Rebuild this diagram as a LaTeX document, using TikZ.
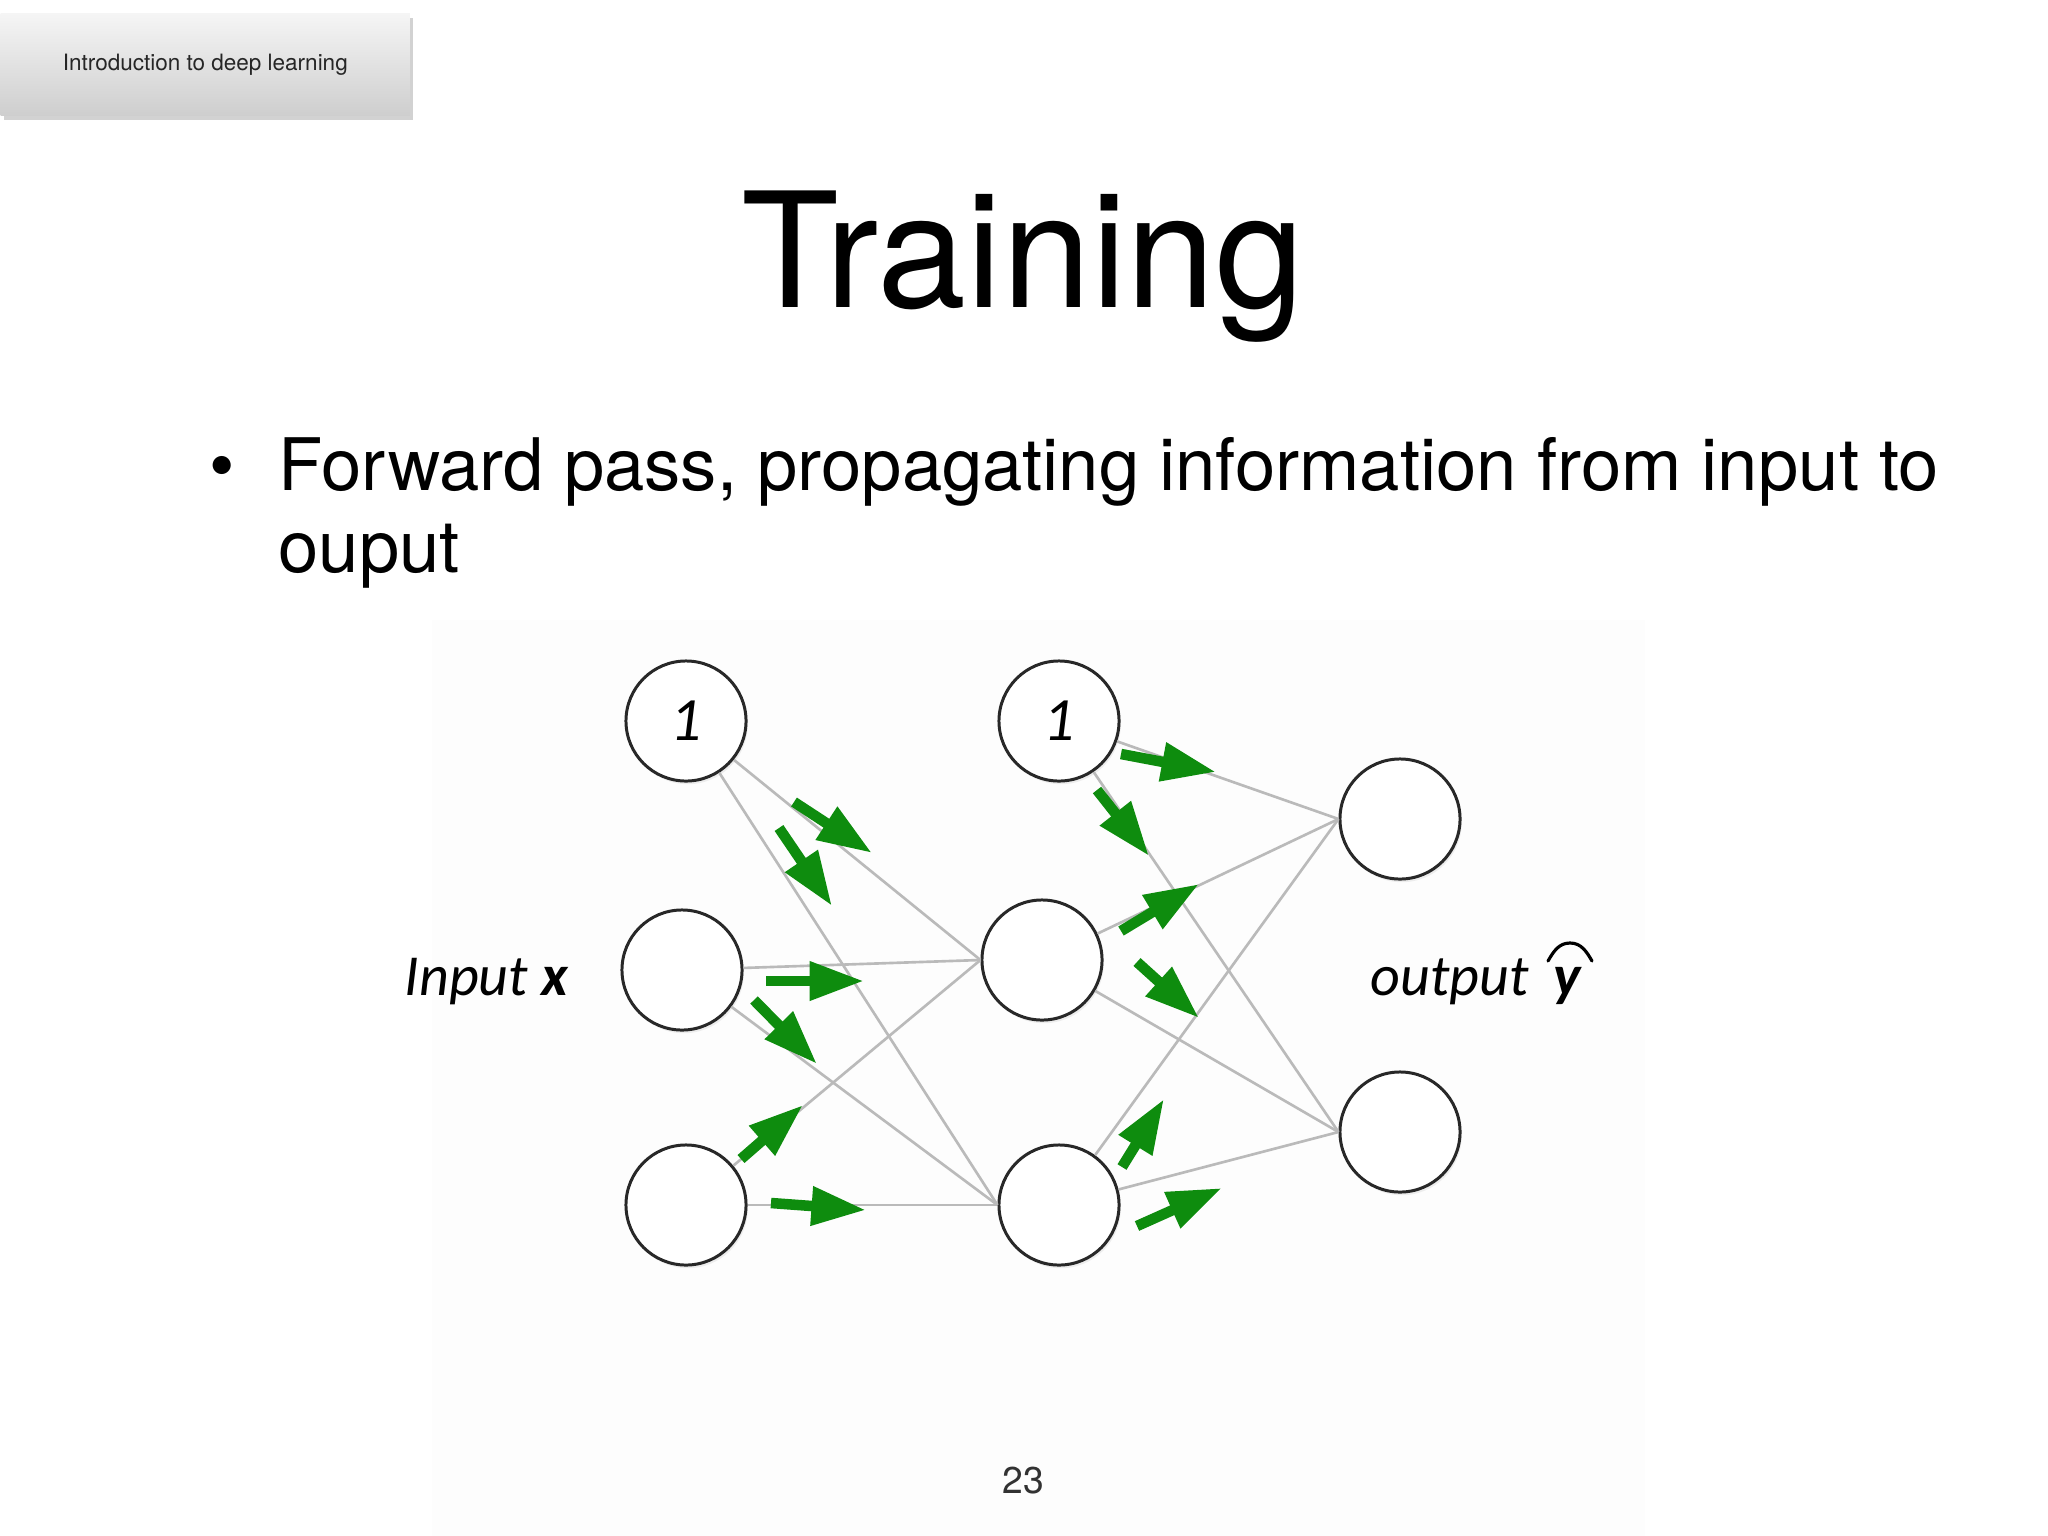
\documentclass[tikz,border=0pt]{standalone}
\usepackage{fontspec}
\setmainfont{TeX Gyre Heros}
\newfontfamily\calfont{Carlito}
\usetikzlibrary{arrows.meta,shadows,calc}
\definecolor{fwd}{RGB}{14,140,14}
\definecolor{edgegray}{RGB}{186,186,186}
\definecolor{ringgray}{RGB}{40,40,40}
\definecolor{hdtop}{RGB}{245,245,245}
\definecolor{hdbot}{RGB}{206,206,206}
\definecolor{pnum}{RGB}{50,50,50}
\definecolor{panel}{RGB}{253,253,253}
\begin{document}
\begin{tikzpicture}[x=0.01cm,y=-0.01cm,
  neuron/.style={circle, draw=ringgray, line width=0.85pt, fill=white,
    minimum size=1.2cm, inner sep=0pt,
    font=\calfont\itshape\fontsize{17.5}{17.5}\selectfont,
    drop shadow={opacity=0.12, shadow xshift=0.5pt, shadow yshift=-0.9pt}},
  edge/.style={draw=edgegray, line width=0.75pt},
  flow/.style={draw=fwd, line width=3pt, -{Triangle[length=15.5pt,width=10.5pt]}},
  lab/.style={font=\calfont\itshape\fontsize{16.5}{16.5}\selectfont, inner sep=0pt, anchor=base west},
  header/.style={anchor=north west, minimum width=4.09cm, minimum height=1.02cm,
    top color=hdtop, bottom color=hdbot, inner sep=0pt,
    font=\fontsize{6.4}{7}\selectfont, text=black!85,
    drop shadow={opacity=0.35, shadow xshift=0.8pt, shadow yshift=-1.2pt}},
  bodytext/.style={anchor=base west, inner sep=0pt, font=\fontsize{20.6}{24}\selectfont}]

\fill[white] (0,0) rectangle (2048,1536);
\useasboundingbox (0,0) rectangle (2048,1536);
\fill[panel] (432,620) rectangle (1645,1536);

% header tab
\node[header] (hdr) at (0,13) {Introduction to deep learning};

% title and bullet
\node[anchor=base, inner sep=0pt, font=\fontsize{45.5}{50}\selectfont] (title) at (1023,307) {Training};
\node[anchor=base, inner sep=0pt, font=\fontsize{20.6}{24}\selectfont] (bul) at (222,490) {\textbullet};
\node[bodytext] (line1) at (278,490) {Forward pass, propagating information from input to};
\node[bodytext] (line2) at (278,572) {ouput};

% neurons
\node[neuron] (in1) at (686,721) {1};
\node[neuron] (in2) at (682,970) {};
\node[neuron] (in3) at (686,1205) {};
\node[neuron] (h1) at (1059,721) {1};
\node[neuron] (h2) at (1042,960) {};
\node[neuron] (h3) at (1059,1205) {};
\node[neuron] (o1) at (1400,819) {};
\node[neuron] (o2) at (1400,1132) {};

% connections
\foreach \s in {in1,in2,in3}{
  \draw[edge] (\s) -- (h2.west);
  \draw[edge] (\s) -- (h3.west);
}
\foreach \s in {h1,h2,h3}{
  \draw[edge] (\s) -- (o1.west);
  \draw[edge] (\s) -- (o2.west);
}

% forward-pass arrows
\draw[flow] (794,802) -- (872,853);
\draw[flow] (779,828) -- (832,906);
\draw[flow] (766,981) -- (864,981);
\draw[flow] (754,1000) -- (817,1064);
\draw[flow] (741,1159) -- (803,1105);
\draw[flow] (771,1203) -- (866,1210);
\draw[flow] (1121,754) -- (1216,772);
\draw[flow] (1097,790) -- (1149,856);
\draw[flow] (1121,931) -- (1199,884);
\draw[flow] (1137,962) -- (1199,1018);
\draw[flow] (1122,1167) -- (1164,1099);
\draw[flow] (1137,1226) -- (1222,1188);

% labels
\node[lab] (inlab) at (404,995) {Input \textbf{x}};
\node[lab] (outlab) at (1370,995) {output};
\node[lab] (ylab) at (1553,995) {\textbf{y}};
\coordinate (hatc) at (1570,943);
\draw[line width=0.9pt, line cap=round] ($(hatc)+(-22,18)$) to[out=60,in=180] (hatc) to[out=0,in=120] ($(hatc)+(22,18)$);

% page number
\node[anchor=base, inner sep=0pt, font=\fontsize{10.6}{12}\selectfont, text=pnum] (page) at (1023,1493) {23};
\end{tikzpicture}
\end{document}
